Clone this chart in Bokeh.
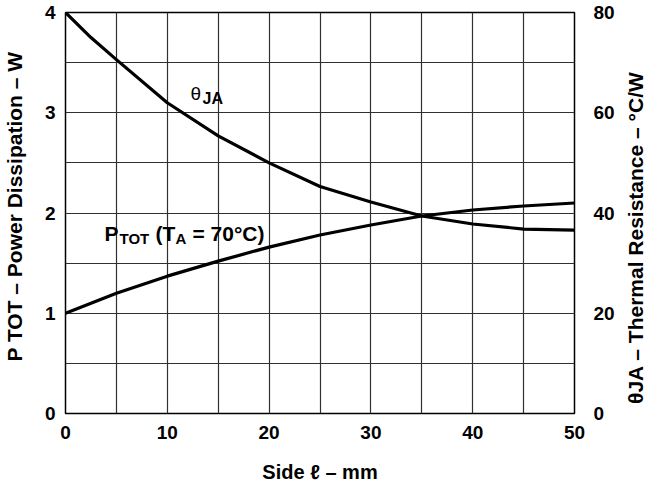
import math
from bokeh.plotting import figure
from bokeh.layouts import row
from bokeh.models import Range1d, LinearAxis, FixedTicker, Label
from bokeh.embed import file_html
from bokeh.resources import INLINE

# ---- data ----
side_mm = [0, 5, 10, 15, 20, 25, 30, 35, 40, 45, 50]
ptot_w = [1.0, 1.2, 1.37, 1.52, 1.66, 1.78, 1.88, 1.97, 2.03, 2.07, 2.1]
theta_side_mm = [0, 2.5, 5, 10, 15, 20, 25, 30, 35, 40, 45, 50]
theta_ja = [80, 75, 70.6, 62, 55.4, 50, 45.3, 42.2, 39.4, 37.8, 36.8, 36.6]

x_ticks = [0, 10, 20, 30, 40, 50]
left_ticks = [0, 1, 2, 3, 4]
right_ticks = [0, 20, 40, 60, 80]
x_grid = [0, 5, 10, 15, 20, 25, 30, 35, 40, 45, 50]
y_grid = [0, 0.5, 1, 1.5, 2, 2.5, 3, 3.5, 4]

x_title = "Side \u2113 \u2013 mm"
left_title = "P TOT \u2013 Power Dissipation \u2013 W"
right_title = "\u03b8JA \u2013 Thermal Resistance \u2013 \u00b0C/W"

FONT = "Liberation Sans"
H = 486
LW, RW = 27, 25          # side strips holding the rotated axis titles
PW = 647 - LW - RW       # main plot width
ML, MT, MB = 38, 12, 73
MR = PW - ML - 509

p = figure(width=PW, height=H, x_range=Range1d(0, 50), y_range=Range1d(0, 4),
           output_backend="svg", toolbar_location=None,
           min_border_left=ML, min_border_right=MR, min_border_top=MT, min_border_bottom=MB)
p.extra_y_ranges = {"theta": Range1d(0, 80)}

p.outline_line_color = "black"
p.outline_line_width = 1.5

for g, t in ((p.xgrid, x_grid), (p.ygrid, y_grid)):
    g.ticker = FixedTicker(ticks=t)
    g.grid_line_color = "#303030"
    g.grid_line_width = 1.2

def style_axis(ax, standoff):
    ax.major_tick_line_color = None
    ax.minor_tick_line_color = None
    ax.axis_line_color = None
    ax.major_tick_out = 0
    ax.major_tick_in = 0
    ax.major_label_standoff = standoff
    ax.major_label_text_font = FONT
    ax.major_label_text_font_style = "bold"
    ax.major_label_text_font_size = "19px"
    ax.major_label_text_color = "black"

p.xaxis.ticker = FixedTicker(ticks=x_ticks)
style_axis(p.xaxis[0], 12)
p.xaxis.axis_label = x_title
p.xaxis.axis_label_standoff = 19
p.xaxis.axis_label_text_font = FONT
p.xaxis.axis_label_text_font_style = "bold"
p.xaxis.axis_label_text_font_size = "20px"
p.xaxis.axis_label_text_color = "black"

p.yaxis.ticker = FixedTicker(ticks=left_ticks)
style_axis(p.yaxis[0], 10)

right = LinearAxis(y_range_name="theta", ticker=FixedTicker(ticks=right_ticks))
style_axis(right, 19)
p.add_layout(right, "right")

p.line(side_mm, ptot_w, line_width=3.2, line_color="black", line_join="round", line_cap="round")
p.line(theta_side_mm, theta_ja, y_range_name="theta", line_width=3.2, line_color="black",
       line_join="round", line_cap="round")

# curve annotations (positions from the reference, converted to data units)
FX0, FX1, FY0, FY1 = 73, 582, 421, 15
def dx(px):
    return (px - FX0) / (FX1 - FX0) * 50
def dy(py):
    return (FY0 - py) / (FY0 - FY1) * 4

def piece(text, px, py, size, style="bold"):
    p.add_layout(Label(x=dx(px), y=dy(py), text=text, text_align="left",
                       text_baseline="alphabetic", text_font=FONT, text_font_style=style,
                       text_font_size=size, text_color="black"))

piece("P", 112, 239, "21px")
piece("TOT", 127, 244, "15px")
piece("(T", 163, 239, "21px")
piece("A", 183, 244, "15px")
piece("= 70\u00b0C)", 200, 239, "21px")

piece("\u03b8", 198, 97, "19px", "normal")
piece("JA", 210, 102, "16px")

# side strips with the rotated axis titles (both read bottom to top)
def side_strip(width, text, center_py):
    s = figure(width=width, height=H, x_range=Range1d(0, 1), y_range=p.y_range,
               output_backend="svg", toolbar_location=None,
               x_axis_location=None, y_axis_location=None,
               min_border_left=0, min_border_right=0, min_border_top=MT, min_border_bottom=MB)
    s.outline_line_color = None
    s.xgrid.visible = False
    s.ygrid.visible = False
    s.add_layout(Label(x=0.5, y=dy(center_py), text=text, angle=math.pi / 2,
                       text_align="center", text_baseline="middle", text_font=FONT,
                       text_font_style="bold", text_font_size="21px", text_color="black"))
    return s

left_strip = side_strip(LW, left_title, 211.5)
right_strip = side_strip(RW, right_title, 243)

layout = row(left_strip, p, right_strip)
open("out.html", "w").write(file_html(layout, INLINE))
